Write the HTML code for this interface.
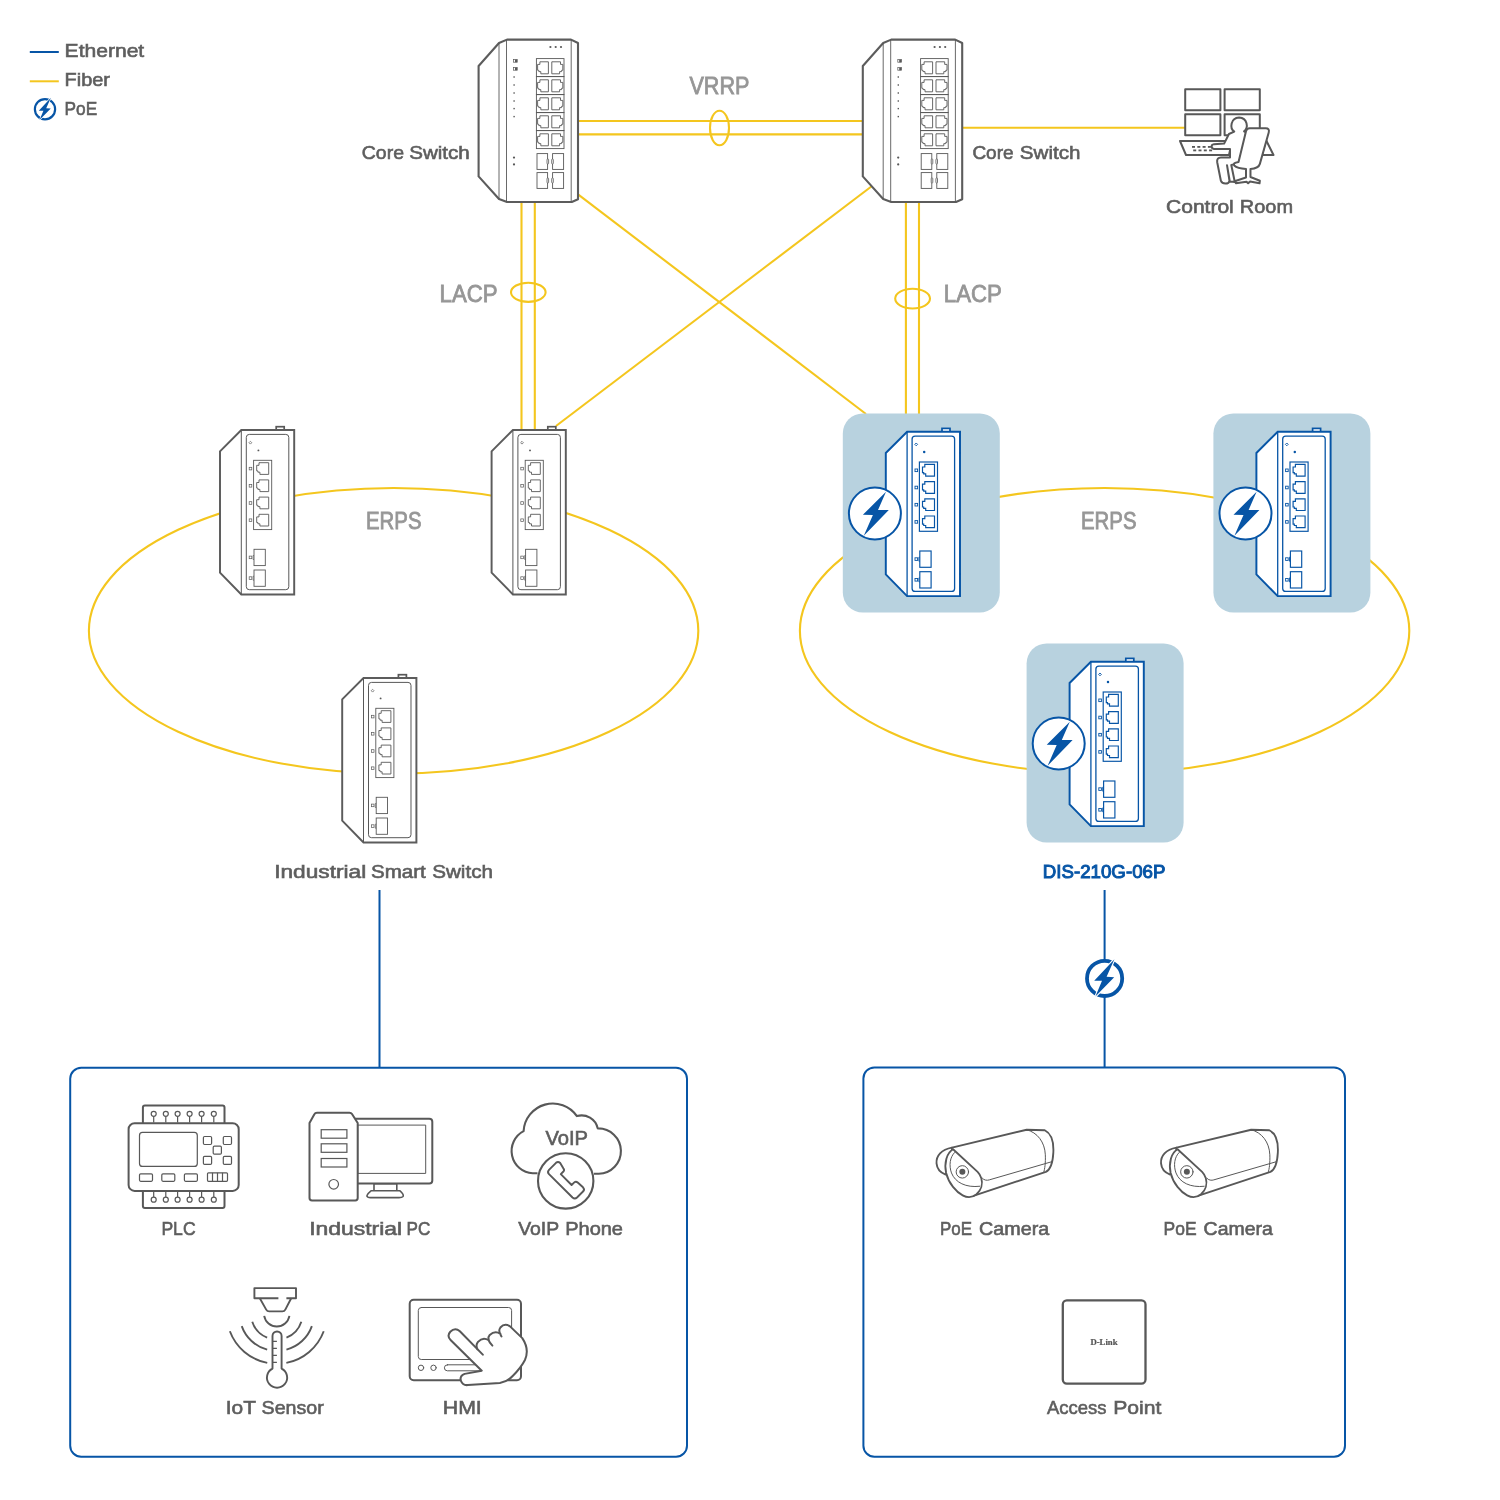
<!DOCTYPE html>
<html lang="en"><head><meta charset="utf-8"><title>Industrial Network Topology</title>
<style>html,body{margin:0;padding:0;background:#fff}body{width:1500px;height:1500px;overflow:hidden}svg{display:block;will-change:transform;transform:translateZ(0)}</style>
</head><body>
<svg width="1500" height="1500" viewBox="0 0 1500 1500">
<rect width="1500" height="1500" fill="#fff"/>
<g stroke="#f4c61e" stroke-width="2.1" fill="none">
<ellipse cx="393.6" cy="630.8" rx="304.7" ry="142.8"/>
<ellipse cx="1104.6" cy="630.8" rx="304.7" ry="142.8"/>
<path d="M578,121H864M578,134.4H864"/>
<ellipse cx="719.5" cy="128" rx="9.5" ry="17.2"/>
<path d="M962,127.7H1185"/>
<path d="M521.5,200V431M534.8,200V431"/>
<path d="M905.9,200V432M919,200V432"/>
<ellipse cx="528.3" cy="292.3" rx="17.3" ry="9.6"/>
<ellipse cx="912.6" cy="298.6" rx="17.4" ry="9.9"/>
<path d="M578,194.3L866,414"/>
<path d="M872,186L556,426"/>
</g>
<g stroke="#0755a6" stroke-width="2" fill="none">
<path d="M379.5,890V1068M1104.6,890V1068"/>
<rect x="70.2" y="1067.7" width="616.8" height="389.1" rx="11"/>
<rect x="863.4" y="1067.4" width="481.6" height="389.4" rx="11"/>
</g>
<circle cx="1104.6" cy="978.4" r="17.60" fill="#fff" stroke="#0755a6" stroke-width="3.80"/><polygon points="1114.40,959.20 1094.20,980.80 1102.00,980.80 1095.40,996.60 1114.20,977.20 1106.60,976.80" fill="#0755a6" stroke="#fff" stroke-width="2.20" paint-order="stroke" stroke-linejoin="miter"/>
<path d="M29.8,52H58.8" stroke="#0755a6" stroke-width="2"/>
<path d="M29.8,81.3H58.8" stroke="#f4c61e" stroke-width="2"/>
<circle cx="45" cy="109.2" r="10.12" fill="#fff" stroke="#0755a6" stroke-width="2.18"/><polygon points="50.88,97.68 38.76,110.64 43.44,110.64 39.48,120.12 50.76,108.48 46.20,108.24" fill="#0755a6" stroke="#fff" stroke-width="1.26" paint-order="stroke" stroke-linejoin="miter"/>
<text x="64.60" y="57.2" font-family='"Liberation Sans", sans-serif' font-size="18.6" font-weight="normal" fill="#5e5e5e" stroke="#5e5e5e" stroke-width="0.6" textLength="79.60" lengthAdjust="spacingAndGlyphs">Ethernet</text>
<text x="64.60" y="86.2" font-family='"Liberation Sans", sans-serif' font-size="18.6" font-weight="normal" fill="#5e5e5e" stroke="#5e5e5e" stroke-width="0.6" textLength="45.40" lengthAdjust="spacingAndGlyphs">Fiber</text>
<text x="64.60" y="115.2" font-family='"Liberation Sans", sans-serif' font-size="18.6" font-weight="normal" fill="#5e5e5e" stroke="#5e5e5e" stroke-width="0.6" textLength="32.60" lengthAdjust="spacingAndGlyphs">PoE</text>
<g transform="translate(0.00,0)" stroke="#585858" fill="none"><path d="M499,43L507,39.6H571L578,43V199.2L571.8,202H507L499,199L478.6,176.4V66Z" fill="#fff" stroke="#5c5c5c" stroke-width="2.1" stroke-linejoin="round"/><path d="M499,43V199M506.5,40V201.6M571.2,40V201.6" stroke-width="0.9"/><circle cx="550.4" cy="47" r="1.1" fill="#585858" stroke="none"/><circle cx="555.7" cy="47" r="1.1" fill="#585858" stroke="none"/><circle cx="561" cy="47" r="1.1" fill="#585858" stroke="none"/><rect x="513.6" y="59.6" width="3.6" height="2.6" stroke-width="0.7"/><rect x="515" y="59.6" width="2.2" height="2.6" fill="#585858" stroke="none"/><rect x="513.6" y="67.6" width="3.6" height="2.6" stroke-width="0.7"/><rect x="515" y="67.6" width="2.2" height="2.6" fill="#585858" stroke="none"/><rect x="513.4" y="76.3" width="1.4" height="1.4" fill="#585858" stroke="none"/><rect x="513.4" y="84.3" width="1.4" height="1.4" fill="#585858" stroke="none"/><rect x="513.4" y="92.3" width="1.4" height="1.4" fill="#585858" stroke="none"/><rect x="513.4" y="100.3" width="1.4" height="1.4" fill="#585858" stroke="none"/><rect x="513.4" y="107.9" width="1.4" height="1.4" fill="#585858" stroke="none"/><rect x="513.4" y="115.9" width="1.4" height="1.4" fill="#585858" stroke="none"/><circle cx="514" cy="157.6" r="1.1" fill="#585858" stroke="none"/><circle cx="514" cy="164.4" r="1.1" fill="#585858" stroke="none"/><rect x="536.4" y="58.6" width="27.6" height="18" stroke-width="0.9"/><path d="M539.90,61.80H548.40V73.80H540.80V71.60H538.80V70.30H537.60V64.40H539.90Z" stroke-width="0.9"/><path d="M560.50,61.80H551.80V73.80H559.60V71.60H561.60V70.30H562.80V64.40H560.50Z" stroke-width="0.9"/><rect x="536.4" y="76.6" width="27.6" height="18" stroke-width="0.9"/><path d="M539.90,79.80H548.40V91.80H540.80V89.60H538.80V88.30H537.60V82.40H539.90Z" stroke-width="0.9"/><path d="M560.50,79.80H551.80V91.80H559.60V89.60H561.60V88.30H562.80V82.40H560.50Z" stroke-width="0.9"/><rect x="536.4" y="94.6" width="27.6" height="18" stroke-width="0.9"/><path d="M539.90,97.80H548.40V109.80H540.80V107.60H538.80V106.30H537.60V100.40H539.90Z" stroke-width="0.9"/><path d="M560.50,97.80H551.80V109.80H559.60V107.60H561.60V106.30H562.80V100.40H560.50Z" stroke-width="0.9"/><rect x="536.4" y="112.6" width="27.6" height="18" stroke-width="0.9"/><path d="M539.90,115.80H548.40V127.80H540.80V125.60H538.80V124.30H537.60V118.40H539.90Z" stroke-width="0.9"/><path d="M560.50,115.80H551.80V127.80H559.60V125.60H561.60V124.30H562.80V118.40H560.50Z" stroke-width="0.9"/><rect x="536.4" y="130.6" width="27.6" height="18" stroke-width="0.9"/><path d="M539.90,133.80H548.40V145.80H540.80V143.60H538.80V142.30H537.60V136.40H539.90Z" stroke-width="0.9"/><path d="M560.50,133.80H551.80V145.80H559.60V143.60H561.60V142.30H562.80V136.40H560.50Z" stroke-width="0.9"/><rect x="537" y="153.6" width="10.6" height="15.8" stroke-width="0.9"/><rect x="552.6" y="153.6" width="11" height="15.8" stroke-width="0.9"/><rect x="547" y="159.0" width="1.6" height="5" rx="0.7" fill="#fff" stroke-width="0.8"/><rect x="551.7" y="159.0" width="1.6" height="5" rx="0.7" fill="#fff" stroke-width="0.8"/><rect x="537" y="172.6" width="10.6" height="15.8" stroke-width="0.9"/><rect x="552.6" y="172.6" width="11" height="15.8" stroke-width="0.9"/><rect x="547" y="178.0" width="1.6" height="5" rx="0.7" fill="#fff" stroke-width="0.8"/><rect x="551.7" y="178.0" width="1.6" height="5" rx="0.7" fill="#fff" stroke-width="0.8"/></g>
<g transform="translate(384.20,0)" stroke="#585858" fill="none"><path d="M499,43L507,39.6H571L578,43V199.2L571.8,202H507L499,199L478.6,176.4V66Z" fill="#fff" stroke="#5c5c5c" stroke-width="2.1" stroke-linejoin="round"/><path d="M499,43V199M506.5,40V201.6M571.2,40V201.6" stroke-width="0.9"/><circle cx="550.4" cy="47" r="1.1" fill="#585858" stroke="none"/><circle cx="555.7" cy="47" r="1.1" fill="#585858" stroke="none"/><circle cx="561" cy="47" r="1.1" fill="#585858" stroke="none"/><rect x="513.6" y="59.6" width="3.6" height="2.6" stroke-width="0.7"/><rect x="515" y="59.6" width="2.2" height="2.6" fill="#585858" stroke="none"/><rect x="513.6" y="67.6" width="3.6" height="2.6" stroke-width="0.7"/><rect x="515" y="67.6" width="2.2" height="2.6" fill="#585858" stroke="none"/><rect x="513.4" y="76.3" width="1.4" height="1.4" fill="#585858" stroke="none"/><rect x="513.4" y="84.3" width="1.4" height="1.4" fill="#585858" stroke="none"/><rect x="513.4" y="92.3" width="1.4" height="1.4" fill="#585858" stroke="none"/><rect x="513.4" y="100.3" width="1.4" height="1.4" fill="#585858" stroke="none"/><rect x="513.4" y="107.9" width="1.4" height="1.4" fill="#585858" stroke="none"/><rect x="513.4" y="115.9" width="1.4" height="1.4" fill="#585858" stroke="none"/><circle cx="514" cy="157.6" r="1.1" fill="#585858" stroke="none"/><circle cx="514" cy="164.4" r="1.1" fill="#585858" stroke="none"/><rect x="536.4" y="58.6" width="27.6" height="18" stroke-width="0.9"/><path d="M539.90,61.80H548.40V73.80H540.80V71.60H538.80V70.30H537.60V64.40H539.90Z" stroke-width="0.9"/><path d="M560.50,61.80H551.80V73.80H559.60V71.60H561.60V70.30H562.80V64.40H560.50Z" stroke-width="0.9"/><rect x="536.4" y="76.6" width="27.6" height="18" stroke-width="0.9"/><path d="M539.90,79.80H548.40V91.80H540.80V89.60H538.80V88.30H537.60V82.40H539.90Z" stroke-width="0.9"/><path d="M560.50,79.80H551.80V91.80H559.60V89.60H561.60V88.30H562.80V82.40H560.50Z" stroke-width="0.9"/><rect x="536.4" y="94.6" width="27.6" height="18" stroke-width="0.9"/><path d="M539.90,97.80H548.40V109.80H540.80V107.60H538.80V106.30H537.60V100.40H539.90Z" stroke-width="0.9"/><path d="M560.50,97.80H551.80V109.80H559.60V107.60H561.60V106.30H562.80V100.40H560.50Z" stroke-width="0.9"/><rect x="536.4" y="112.6" width="27.6" height="18" stroke-width="0.9"/><path d="M539.90,115.80H548.40V127.80H540.80V125.60H538.80V124.30H537.60V118.40H539.90Z" stroke-width="0.9"/><path d="M560.50,115.80H551.80V127.80H559.60V125.60H561.60V124.30H562.80V118.40H560.50Z" stroke-width="0.9"/><rect x="536.4" y="130.6" width="27.6" height="18" stroke-width="0.9"/><path d="M539.90,133.80H548.40V145.80H540.80V143.60H538.80V142.30H537.60V136.40H539.90Z" stroke-width="0.9"/><path d="M560.50,133.80H551.80V145.80H559.60V143.60H561.60V142.30H562.80V136.40H560.50Z" stroke-width="0.9"/><rect x="537" y="153.6" width="10.6" height="15.8" stroke-width="0.9"/><rect x="552.6" y="153.6" width="11" height="15.8" stroke-width="0.9"/><rect x="547" y="159.0" width="1.6" height="5" rx="0.7" fill="#fff" stroke-width="0.8"/><rect x="551.7" y="159.0" width="1.6" height="5" rx="0.7" fill="#fff" stroke-width="0.8"/><rect x="537" y="172.6" width="10.6" height="15.8" stroke-width="0.9"/><rect x="552.6" y="172.6" width="11" height="15.8" stroke-width="0.9"/><rect x="547" y="178.0" width="1.6" height="5" rx="0.7" fill="#fff" stroke-width="0.8"/><rect x="551.7" y="178.0" width="1.6" height="5" rx="0.7" fill="#fff" stroke-width="0.8"/></g>
<text x="361.80" y="158.8" font-family='"Liberation Sans", sans-serif' font-size="18.6" font-weight="normal" fill="#5e5e5e" stroke="#5e5e5e" stroke-width="0.6" textLength="42.20" lengthAdjust="spacingAndGlyphs">Core</text><text x="409.20" y="158.8" font-family='"Liberation Sans", sans-serif' font-size="18.6" font-weight="normal" fill="#5e5e5e" stroke="#5e5e5e" stroke-width="0.6" textLength="60.60" lengthAdjust="spacingAndGlyphs">Switch</text>
<text x="972.40" y="158.8" font-family='"Liberation Sans", sans-serif' font-size="18.6" font-weight="normal" fill="#5e5e5e" stroke="#5e5e5e" stroke-width="0.6" textLength="41.20" lengthAdjust="spacingAndGlyphs">Core</text><text x="1019.80" y="158.8" font-family='"Liberation Sans", sans-serif' font-size="18.6" font-weight="normal" fill="#5e5e5e" stroke="#5e5e5e" stroke-width="0.6" textLength="60.60" lengthAdjust="spacingAndGlyphs">Switch</text>
<text x="689.40" y="94.1" font-family='"Liberation Sans", sans-serif' font-size="23.7" font-weight="normal" fill="#969696" stroke="#969696" stroke-width="0.8" textLength="60.00" lengthAdjust="spacingAndGlyphs">VRRP</text>
<text x="439.60" y="301.9" font-family='"Liberation Sans", sans-serif' font-size="23.7" font-weight="normal" fill="#969696" stroke="#969696" stroke-width="0.8" textLength="58.00" lengthAdjust="spacingAndGlyphs">LACP</text>
<text x="943.80" y="301.9" font-family='"Liberation Sans", sans-serif' font-size="23.7" font-weight="normal" fill="#969696" stroke="#969696" stroke-width="0.8" textLength="58.00" lengthAdjust="spacingAndGlyphs">LACP</text>
<text x="366.00" y="529.1" font-family='"Liberation Sans", sans-serif' font-size="23.7" font-weight="normal" fill="#969696" stroke="#969696" stroke-width="0.8" textLength="55.60" lengthAdjust="spacingAndGlyphs">ERPS</text>
<text x="1081.00" y="529.1" font-family='"Liberation Sans", sans-serif' font-size="23.7" font-weight="normal" fill="#969696" stroke="#969696" stroke-width="0.8" textLength="55.60" lengthAdjust="spacingAndGlyphs">ERPS</text>
<g stroke="#585858" stroke-width="2" fill="#fff" stroke-linejoin="round" stroke-linecap="round">
<rect x="1185.2" y="89.2" width="35.2" height="21" />
<rect x="1224.6" y="89.2" width="35.2" height="21" />
<rect x="1185.2" y="114.2" width="35.2" height="21" />
<rect x="1224.6" y="114.2" width="35.2" height="21" />
<path d="M1266,140L1273.5,155H1262Z"/>
<path d="M1180,141H1232L1229,155H1186Z"/>
<path d="M 1234.27,131.65 C 1229.47,128.13 1230.53,118.00 1239.07,117.47 C 1247.60,118.00 1248.67,127.60 1244.08,131.33 L 1246.00,132.40 L 1241.73,162.80 L 1231.28,164.93 L 1234.80,182.00 L 1229.79,181.47 L 1227.01,165.15 L 1229.47,180.93 C 1228.72,184.35 1222.53,184.67 1220.93,180.93 L 1217.20,162.27 C 1216.67,159.07 1218.27,157.47 1220.93,157.47 L 1230.00,157.47 L 1230.00,148.93 L 1214.00,148.93 C 1210.80,148.40 1210.80,144.67 1214.00,144.13 L 1224.13,143.60 L 1228.93,134.00 Z"/>
<path d="M 1246.00,131.33 C 1246.53,129.20 1247.60,128.35 1249.73,128.35 L 1265.73,128.35 C 1268.40,128.35 1269.47,129.73 1268.72,132.40 L 1259.87,163.87 C 1258.80,167.60 1255.07,168.67 1250.48,168.99 L 1250.48,176.99 L 1259.87,180.72 L 1259.55,183.28 L 1250.05,181.47 L 1248.13,183.28 L 1246.53,181.68 L 1235.87,183.28 L 1235.33,180.93 L 1246.00,177.52 L 1246.00,168.99 C 1240.67,168.67 1236.40,167.60 1234.27,165.47 C 1233.20,163.87 1234.27,162.59 1238.53,161.95 Z"/>
</g>
<g fill="#585858">
<rect x="1192.0" y="146" width="3" height="1.8"/>
<rect x="1197.3" y="146" width="3" height="1.8"/>
<rect x="1202.6" y="146" width="3" height="1.8"/>
<rect x="1207.9" y="146" width="3" height="1.8"/>
<rect x="1193.2" y="149.5" width="3" height="1.8"/>
<rect x="1198.5" y="149.5" width="3" height="1.8"/>
<rect x="1203.8" y="149.5" width="3" height="1.8"/>
<rect x="1209.1" y="149.5" width="3" height="1.8"/>
</g>
<text x="1166.00" y="213.2" font-family='"Liberation Sans", sans-serif' font-size="18.6" font-weight="normal" fill="#5e5e5e" stroke="#5e5e5e" stroke-width="0.6" textLength="67.80" lengthAdjust="spacingAndGlyphs">Control</text><text x="1239.80" y="213.2" font-family='"Liberation Sans", sans-serif' font-size="18.6" font-weight="normal" fill="#5e5e5e" stroke="#5e5e5e" stroke-width="0.6" textLength="53.20" lengthAdjust="spacingAndGlyphs">Room</text>
<g transform="translate(0.00,0.00)" stroke="#585858" fill="none"><rect x="276.2" y="426.7" width="8" height="3.6" fill="#fff" stroke-width="1.7"/><path d="M241.3,430H294.2V594.4H241.3L220,572.7V451.3Z" fill="#fff" stroke="#5c5c5c" stroke-width="1.95" stroke-linejoin="miter"/><path d="M241.3,430V594.4" stroke-width="1.00"/><rect x="246.3" y="434.4" width="42.5" height="155.3" rx="3" stroke-width="1.00"/><path d="M250.4,441.3l1.4,1.4l-1.4,1.4l-1.4,-1.4z" stroke-width="0.70"/><circle cx="258.4" cy="450.4" r="0.95" fill="#585858" stroke="none"/><rect x="253.6" y="460.3" width="18.1" height="69.3" stroke-width="0.90"/><path d="M259.00,462.70H268.70V474.40H259.90V472.20H257.90V470.90H256.70V465.30H259.00Z" stroke-width="0.90"/><rect x="249.2" y="467.30" width="2.6" height="2.6" stroke-width="0.70"/><path d="M259.00,479.90H268.70V491.60H259.90V489.40H257.90V488.10H256.70V482.50H259.00Z" stroke-width="0.90"/><rect x="249.2" y="484.50" width="2.6" height="2.6" stroke-width="0.70"/><path d="M259.00,497.10H268.70V508.80H259.90V506.60H257.90V505.30H256.70V499.70H259.00Z" stroke-width="0.90"/><rect x="249.2" y="501.70" width="2.6" height="2.6" stroke-width="0.70"/><path d="M259.00,514.30H268.70V526.00H259.90V523.80H257.90V522.50H256.70V516.90H259.00Z" stroke-width="0.90"/><rect x="249.2" y="518.90" width="2.6" height="2.6" stroke-width="0.70"/><rect x="254" y="549.3" width="11.3" height="16.3" stroke-width="0.90"/><path d="M254,555.50h-0.9v4h0.9" stroke-width="0.70"/><rect x="249.2" y="556.10" width="2.6" height="2.6" stroke-width="0.70"/><rect x="254" y="570.0" width="11.3" height="16.3" stroke-width="0.90"/><path d="M254,576.20h-0.9v4h0.9" stroke-width="0.70"/><rect x="249.2" y="576.80" width="2.6" height="2.6" stroke-width="0.70"/></g>
<g transform="translate(271.60,0.00)" stroke="#585858" fill="none"><rect x="276.2" y="426.7" width="8" height="3.6" fill="#fff" stroke-width="1.7"/><path d="M241.3,430H294.2V594.4H241.3L220,572.7V451.3Z" fill="#fff" stroke="#5c5c5c" stroke-width="1.95" stroke-linejoin="miter"/><path d="M241.3,430V594.4" stroke-width="1.00"/><rect x="246.3" y="434.4" width="42.5" height="155.3" rx="3" stroke-width="1.00"/><path d="M250.4,441.3l1.4,1.4l-1.4,1.4l-1.4,-1.4z" stroke-width="0.70"/><circle cx="258.4" cy="450.4" r="0.95" fill="#585858" stroke="none"/><rect x="253.6" y="460.3" width="18.1" height="69.3" stroke-width="0.90"/><path d="M259.00,462.70H268.70V474.40H259.90V472.20H257.90V470.90H256.70V465.30H259.00Z" stroke-width="0.90"/><rect x="249.2" y="467.30" width="2.6" height="2.6" stroke-width="0.70"/><path d="M259.00,479.90H268.70V491.60H259.90V489.40H257.90V488.10H256.70V482.50H259.00Z" stroke-width="0.90"/><rect x="249.2" y="484.50" width="2.6" height="2.6" stroke-width="0.70"/><path d="M259.00,497.10H268.70V508.80H259.90V506.60H257.90V505.30H256.70V499.70H259.00Z" stroke-width="0.90"/><rect x="249.2" y="501.70" width="2.6" height="2.6" stroke-width="0.70"/><path d="M259.00,514.30H268.70V526.00H259.90V523.80H257.90V522.50H256.70V516.90H259.00Z" stroke-width="0.90"/><rect x="249.2" y="518.90" width="2.6" height="2.6" stroke-width="0.70"/><rect x="254" y="549.3" width="11.3" height="16.3" stroke-width="0.90"/><path d="M254,555.50h-0.9v4h0.9" stroke-width="0.70"/><rect x="249.2" y="556.10" width="2.6" height="2.6" stroke-width="0.70"/><rect x="254" y="570.0" width="11.3" height="16.3" stroke-width="0.90"/><path d="M254,576.20h-0.9v4h0.9" stroke-width="0.70"/><rect x="249.2" y="576.80" width="2.6" height="2.6" stroke-width="0.70"/></g>
<g transform="translate(122.20,248.00)" stroke="#585858" fill="none"><rect x="276.2" y="426.7" width="8" height="3.6" fill="#fff" stroke-width="1.7"/><path d="M241.3,430H294.2V594.4H241.3L220,572.7V451.3Z" fill="#fff" stroke="#5c5c5c" stroke-width="1.95" stroke-linejoin="miter"/><path d="M241.3,430V594.4" stroke-width="1.00"/><rect x="246.3" y="434.4" width="42.5" height="155.3" rx="3" stroke-width="1.00"/><path d="M250.4,441.3l1.4,1.4l-1.4,1.4l-1.4,-1.4z" stroke-width="0.70"/><circle cx="258.4" cy="450.4" r="0.95" fill="#585858" stroke="none"/><rect x="253.6" y="460.3" width="18.1" height="69.3" stroke-width="0.90"/><path d="M259.00,462.70H268.70V474.40H259.90V472.20H257.90V470.90H256.70V465.30H259.00Z" stroke-width="0.90"/><rect x="249.2" y="467.30" width="2.6" height="2.6" stroke-width="0.70"/><path d="M259.00,479.90H268.70V491.60H259.90V489.40H257.90V488.10H256.70V482.50H259.00Z" stroke-width="0.90"/><rect x="249.2" y="484.50" width="2.6" height="2.6" stroke-width="0.70"/><path d="M259.00,497.10H268.70V508.80H259.90V506.60H257.90V505.30H256.70V499.70H259.00Z" stroke-width="0.90"/><rect x="249.2" y="501.70" width="2.6" height="2.6" stroke-width="0.70"/><path d="M259.00,514.30H268.70V526.00H259.90V523.80H257.90V522.50H256.70V516.90H259.00Z" stroke-width="0.90"/><rect x="249.2" y="518.90" width="2.6" height="2.6" stroke-width="0.70"/><rect x="254" y="549.3" width="11.3" height="16.3" stroke-width="0.90"/><path d="M254,555.50h-0.9v4h0.9" stroke-width="0.70"/><rect x="249.2" y="556.10" width="2.6" height="2.6" stroke-width="0.70"/><rect x="254" y="570.0" width="11.3" height="16.3" stroke-width="0.90"/><path d="M254,576.20h-0.9v4h0.9" stroke-width="0.70"/><rect x="249.2" y="576.80" width="2.6" height="2.6" stroke-width="0.70"/></g>
<text x="274.20" y="878.2" font-family='"Liberation Sans", sans-serif' font-size="18.6" font-weight="normal" fill="#5e5e5e" stroke="#5e5e5e" stroke-width="0.6" textLength="92.00" lengthAdjust="spacingAndGlyphs">Industrial</text><text x="371.00" y="878.2" font-family='"Liberation Sans", sans-serif' font-size="18.6" font-weight="normal" fill="#5e5e5e" stroke="#5e5e5e" stroke-width="0.6" textLength="54.80" lengthAdjust="spacingAndGlyphs">Smart</text><text x="432.20" y="878.2" font-family='"Liberation Sans", sans-serif' font-size="18.6" font-weight="normal" fill="#5e5e5e" stroke="#5e5e5e" stroke-width="0.6" textLength="60.80" lengthAdjust="spacingAndGlyphs">Switch</text>
<rect x="842.8" y="413.4" width="157" height="199.2" rx="20" fill="#b8d2df"/>
<g transform="translate(665.80,1.70)" stroke="#0755a6" fill="none"><rect x="276.2" y="426.7" width="8" height="3.6" fill="#fff" stroke-width="1.7"/><path d="M241.3,430H294.2V594.4H241.3L220,572.7V451.3Z" fill="#fff" stroke="#0755a6" stroke-width="1.95" stroke-linejoin="miter"/><path d="M241.3,430V594.4" stroke-width="1.30"/><rect x="246.3" y="434.4" width="42.5" height="155.3" rx="3" stroke-width="1.30"/><path d="M250.4,441.3l1.4,1.4l-1.4,1.4l-1.4,-1.4z" stroke-width="0.91"/><circle cx="258.4" cy="450.4" r="1.23" fill="#0755a6" stroke="none"/><rect x="253.6" y="460.3" width="18.1" height="69.3" stroke-width="1.17"/><path d="M259.00,462.70H268.70V474.40H259.90V472.20H257.90V470.90H256.70V465.30H259.00Z" stroke-width="1.17"/><rect x="249.2" y="467.30" width="2.6" height="2.6" stroke-width="0.91"/><path d="M259.00,479.90H268.70V491.60H259.90V489.40H257.90V488.10H256.70V482.50H259.00Z" stroke-width="1.17"/><rect x="249.2" y="484.50" width="2.6" height="2.6" stroke-width="0.91"/><path d="M259.00,497.10H268.70V508.80H259.90V506.60H257.90V505.30H256.70V499.70H259.00Z" stroke-width="1.17"/><rect x="249.2" y="501.70" width="2.6" height="2.6" stroke-width="0.91"/><path d="M259.00,514.30H268.70V526.00H259.90V523.80H257.90V522.50H256.70V516.90H259.00Z" stroke-width="1.17"/><rect x="249.2" y="518.90" width="2.6" height="2.6" stroke-width="0.91"/><rect x="254" y="549.3" width="11.3" height="16.3" stroke-width="1.17"/><path d="M254,555.50h-0.9v4h0.9" stroke-width="0.91"/><rect x="249.2" y="556.10" width="2.6" height="2.6" stroke-width="0.91"/><rect x="254" y="570.0" width="11.3" height="16.3" stroke-width="1.17"/><path d="M254,576.20h-0.9v4h0.9" stroke-width="0.91"/><rect x="249.2" y="576.80" width="2.6" height="2.6" stroke-width="0.91"/></g>
<circle cx="874.9" cy="513.5" r="26" fill="#fff" stroke="#0755a6" stroke-width="2"/><polygon points="886.00,491.70 862.90,514.80 872.90,515.00 863.80,535.80 888.80,510.10 878.00,510.10" fill="#0755a6"/>
<rect x="1213.4" y="413.4" width="157" height="199.2" rx="20" fill="#b8d2df"/>
<g transform="translate(1036.40,1.70)" stroke="#0755a6" fill="none"><rect x="276.2" y="426.7" width="8" height="3.6" fill="#fff" stroke-width="1.7"/><path d="M241.3,430H294.2V594.4H241.3L220,572.7V451.3Z" fill="#fff" stroke="#0755a6" stroke-width="1.95" stroke-linejoin="miter"/><path d="M241.3,430V594.4" stroke-width="1.30"/><rect x="246.3" y="434.4" width="42.5" height="155.3" rx="3" stroke-width="1.30"/><path d="M250.4,441.3l1.4,1.4l-1.4,1.4l-1.4,-1.4z" stroke-width="0.91"/><circle cx="258.4" cy="450.4" r="1.23" fill="#0755a6" stroke="none"/><rect x="253.6" y="460.3" width="18.1" height="69.3" stroke-width="1.17"/><path d="M259.00,462.70H268.70V474.40H259.90V472.20H257.90V470.90H256.70V465.30H259.00Z" stroke-width="1.17"/><rect x="249.2" y="467.30" width="2.6" height="2.6" stroke-width="0.91"/><path d="M259.00,479.90H268.70V491.60H259.90V489.40H257.90V488.10H256.70V482.50H259.00Z" stroke-width="1.17"/><rect x="249.2" y="484.50" width="2.6" height="2.6" stroke-width="0.91"/><path d="M259.00,497.10H268.70V508.80H259.90V506.60H257.90V505.30H256.70V499.70H259.00Z" stroke-width="1.17"/><rect x="249.2" y="501.70" width="2.6" height="2.6" stroke-width="0.91"/><path d="M259.00,514.30H268.70V526.00H259.90V523.80H257.90V522.50H256.70V516.90H259.00Z" stroke-width="1.17"/><rect x="249.2" y="518.90" width="2.6" height="2.6" stroke-width="0.91"/><rect x="254" y="549.3" width="11.3" height="16.3" stroke-width="1.17"/><path d="M254,555.50h-0.9v4h0.9" stroke-width="0.91"/><rect x="249.2" y="556.10" width="2.6" height="2.6" stroke-width="0.91"/><rect x="254" y="570.0" width="11.3" height="16.3" stroke-width="1.17"/><path d="M254,576.20h-0.9v4h0.9" stroke-width="0.91"/><rect x="249.2" y="576.80" width="2.6" height="2.6" stroke-width="0.91"/></g>
<circle cx="1245.5" cy="513.5" r="26" fill="#fff" stroke="#0755a6" stroke-width="2"/><polygon points="1256.60,491.70 1233.50,514.80 1243.50,515.00 1234.40,535.80 1259.40,510.10 1248.60,510.10" fill="#0755a6"/>
<rect x="1026.6" y="643.4" width="157" height="199.2" rx="20" fill="#b8d2df"/>
<g transform="translate(849.60,231.70)" stroke="#0755a6" fill="none"><rect x="276.2" y="426.7" width="8" height="3.6" fill="#fff" stroke-width="1.7"/><path d="M241.3,430H294.2V594.4H241.3L220,572.7V451.3Z" fill="#fff" stroke="#0755a6" stroke-width="1.95" stroke-linejoin="miter"/><path d="M241.3,430V594.4" stroke-width="1.30"/><rect x="246.3" y="434.4" width="42.5" height="155.3" rx="3" stroke-width="1.30"/><path d="M250.4,441.3l1.4,1.4l-1.4,1.4l-1.4,-1.4z" stroke-width="0.91"/><circle cx="258.4" cy="450.4" r="1.23" fill="#0755a6" stroke="none"/><rect x="253.6" y="460.3" width="18.1" height="69.3" stroke-width="1.17"/><path d="M259.00,462.70H268.70V474.40H259.90V472.20H257.90V470.90H256.70V465.30H259.00Z" stroke-width="1.17"/><rect x="249.2" y="467.30" width="2.6" height="2.6" stroke-width="0.91"/><path d="M259.00,479.90H268.70V491.60H259.90V489.40H257.90V488.10H256.70V482.50H259.00Z" stroke-width="1.17"/><rect x="249.2" y="484.50" width="2.6" height="2.6" stroke-width="0.91"/><path d="M259.00,497.10H268.70V508.80H259.90V506.60H257.90V505.30H256.70V499.70H259.00Z" stroke-width="1.17"/><rect x="249.2" y="501.70" width="2.6" height="2.6" stroke-width="0.91"/><path d="M259.00,514.30H268.70V526.00H259.90V523.80H257.90V522.50H256.70V516.90H259.00Z" stroke-width="1.17"/><rect x="249.2" y="518.90" width="2.6" height="2.6" stroke-width="0.91"/><rect x="254" y="549.3" width="11.3" height="16.3" stroke-width="1.17"/><path d="M254,555.50h-0.9v4h0.9" stroke-width="0.91"/><rect x="249.2" y="556.10" width="2.6" height="2.6" stroke-width="0.91"/><rect x="254" y="570.0" width="11.3" height="16.3" stroke-width="1.17"/><path d="M254,576.20h-0.9v4h0.9" stroke-width="0.91"/><rect x="249.2" y="576.80" width="2.6" height="2.6" stroke-width="0.91"/></g>
<circle cx="1058.6999999999998" cy="743.5" r="26" fill="#fff" stroke="#0755a6" stroke-width="2"/><polygon points="1069.80,721.70 1046.70,744.80 1056.70,745.00 1047.60,765.80 1072.60,740.10 1061.80,740.10" fill="#0755a6"/>
<text x="1042.80" y="878.0" font-family='"Liberation Sans", sans-serif' font-size="18.6" font-weight="normal" fill="#0755a6" stroke="#0755a6" stroke-width="1.0" textLength="122.60" lengthAdjust="spacingAndGlyphs">DIS-210G-06P</text>
<g stroke="#585858" fill="#fff" stroke-width="2" stroke-linejoin="round">
<rect x="142.9" y="1105.6" width="81.6" height="30" rx="2"/>
<rect x="142.9" y="1178" width="81.6" height="30" rx="2"/>
<rect x="128.6" y="1123.3" width="110.1" height="67.6" rx="6"/>
</g>
<g stroke="#585858" fill="#fff" stroke-width="1.2">
<path d="M153.7,1116.4V1122.5M153.7,1191.6V1197.2"/><circle cx="153.7" cy="1113.8" r="2.5"/><circle cx="153.7" cy="1199.7" r="2.5"/>
<path d="M165.8,1116.4V1122.5M165.8,1191.6V1197.2"/><circle cx="165.8" cy="1113.8" r="2.5"/><circle cx="165.8" cy="1199.7" r="2.5"/>
<path d="M177.6,1116.4V1122.5M177.6,1191.6V1197.2"/><circle cx="177.6" cy="1113.8" r="2.5"/><circle cx="177.6" cy="1199.7" r="2.5"/>
<path d="M189.6,1116.4V1122.5M189.6,1191.6V1197.2"/><circle cx="189.6" cy="1113.8" r="2.5"/><circle cx="189.6" cy="1199.7" r="2.5"/>
<path d="M201.6,1116.4V1122.5M201.6,1191.6V1197.2"/><circle cx="201.6" cy="1113.8" r="2.5"/><circle cx="201.6" cy="1199.7" r="2.5"/>
<path d="M213.8,1116.4V1122.5M213.8,1191.6V1197.2"/><circle cx="213.8" cy="1113.8" r="2.5"/><circle cx="213.8" cy="1199.7" r="2.5"/>
<rect x="139.5" y="1132.4" width="57.8" height="34" rx="3"/>
<rect x="203.4" y="1136.5" width="8.2" height="8" rx="1.2"/>
<rect x="223.3" y="1136.5" width="8.2" height="8" rx="1.2"/>
<rect x="213.2" y="1146.2" width="8.2" height="8" rx="1.2"/>
<rect x="203.4" y="1156.4" width="8.2" height="8" rx="1.2"/>
<rect x="223.3" y="1156.4" width="8.2" height="8" rx="1.2"/>
<rect x="139.5" y="1173.9" width="13" height="7.4" rx="1.2"/>
<rect x="161.8" y="1173.9" width="13" height="7.4" rx="1.2"/>
<rect x="184.4" y="1173.9" width="13" height="7.4" rx="1.2"/>
<rect x="207.5" y="1172.8" width="20" height="8.5" rx="1"/><path d="M212.5,1172.8v8.5M217.5,1172.8v8.5M222.5,1172.8v8.5"/>
</g>
<text x="161.40" y="1234.8" font-family='"Liberation Sans", sans-serif' font-size="18.6" font-weight="normal" fill="#5e5e5e" stroke="#5e5e5e" stroke-width="0.6" textLength="34.20" lengthAdjust="spacingAndGlyphs">PLC</text>
<g stroke="#585858" fill="#fff" stroke-width="2" stroke-linejoin="round">
<path d="M374,1183.6H396.8V1191H374Z" stroke-width="1.6"/>
<path d="M371,1190.8H400C402.5,1193 404,1195 403,1196.5C402,1197.6 400,1197.6 399,1197.6H370.5C368.5,1197.6 366.5,1197 367,1195.5C367.5,1194 369.5,1192 371,1190.8Z" stroke-width="1.6"/>
<rect x="352" y="1118.8" width="80.3" height="64.8" rx="3"/>
<rect x="357.7" y="1125.1" width="68" height="48.3" fill="none" stroke-width="1"/>
<path d="M312,1200.4C310.3,1200.4 309.5,1199.5 309.5,1198V1123L314.5,1114C315,1113 316,1112.7 317,1112.7H349.5C350.5,1112.7 351.5,1113.2 352,1114L357.7,1123V1198C357.7,1199.5 356.8,1200.4 355.3,1200.4Z"/>
</g>
<g stroke="#585858" fill="#fff" stroke-width="1.2">
<rect x="321.2" y="1129.7" width="25.7" height="8.5"/>
<rect x="321.2" y="1143.8" width="25.7" height="8.5"/>
<rect x="321.2" y="1158.5" width="25.7" height="8.5"/>
<circle cx="333.7" cy="1184.3" r="4.8"/>
</g>
<text x="309.20" y="1234.8" font-family='"Liberation Sans", sans-serif' font-size="18.6" font-weight="normal" fill="#5e5e5e" stroke="#5e5e5e" stroke-width="0.6" textLength="93.00" lengthAdjust="spacingAndGlyphs">Industrial</text><text x="406.60" y="1234.8" font-family='"Liberation Sans", sans-serif' font-size="18.6" font-weight="normal" fill="#5e5e5e" stroke="#5e5e5e" stroke-width="0.6" textLength="23.80" lengthAdjust="spacingAndGlyphs">PC</text>
<g stroke="#585858" fill="#fff" stroke-width="2.1" stroke-linejoin="round">
<path d="M537.5,1173.3 H532.7 A22.4,22.4 0 0 1 523.6,1131.1 A29.3,29.3 0 0 1 576.9,1116.1 A16.5,16.5 0 0 1 597.7,1128.4 A22.4,22.4 0 0 1 598.8,1173.7 H594"/>
<circle cx="565.7" cy="1180.9" r="27.7"/>
<path d="M556,1162.8 L549,1169.8 C547.7,1171.2 547.7,1172.8 549,1174.2 L572.5,1197.5 C574,1198.8 575.6,1198.8 577,1197.5 L583,1191.5 C584.3,1190.2 584.3,1188.6 583,1187.3 L577.7,1182.5 C576.5,1181.5 575.3,1181.5 574.3,1182.4 L571.6,1185 L560.8,1174.2 L563.4,1171.5 C564.3,1170.5 564.3,1169.3 563.3,1168.3 L560.2,1163 C558.8,1161.7 557.3,1161.7 556,1162.8Z" stroke-width="1.9"/>
</g>
<text x="545.40" y="1144.6" font-family='"Liberation Sans", sans-serif' font-size="19.5" font-weight="normal" fill="#5e5e5e" stroke="#5e5e5e" stroke-width="0.6" textLength="42.60" lengthAdjust="spacingAndGlyphs">VoIP</text>
<text x="518.20" y="1235.0" font-family='"Liberation Sans", sans-serif' font-size="18.6" font-weight="normal" fill="#5e5e5e" stroke="#5e5e5e" stroke-width="0.6" textLength="41.00" lengthAdjust="spacingAndGlyphs">VoIP</text><text x="565.20" y="1235.0" font-family='"Liberation Sans", sans-serif' font-size="18.6" font-weight="normal" fill="#5e5e5e" stroke="#5e5e5e" stroke-width="0.6" textLength="57.80" lengthAdjust="spacingAndGlyphs">Phone</text>
<g stroke="#585858" fill="none" stroke-width="1.9" stroke-linecap="butt" stroke-linejoin="round">
<path d="M278.4,1298.3H254.4V1288.1H296V1298.3H286.4"/>
<path d="M259.8,1298.3L266.2,1309.6C267,1311 268,1311.4 269.2,1311.4H282.4C283.6,1311.4 284.6,1311 285.3,1309.6L291.2,1298.3"/>
<path d="M289.41,1315.92A12.8,12.8 0 0 1 264.19,1315.92"/>
<path d="M301.34,1321.67A25.8,25.8 0 0 1 286.46,1337.62"/>
<path d="M267.14,1337.62A25.8,25.8 0 0 1 252.26,1321.67"/>
<path d="M311.87,1326.12A37.2,37.2 0 0 1 286.43,1349.63"/>
<path d="M267.17,1349.63A37.2,37.2 0 0 1 241.73,1326.12"/>
<path d="M323.73,1331.25A50.1,50.1 0 0 1 286.36,1362.88"/>
<path d="M267.24,1362.88A50.1,50.1 0 0 1 229.87,1331.25"/>
<path d="M272.5,1336A4.55,4.55 0 0 1 281.6,1336V1368.6A10.1,10.1 0 1 1 272.5,1368.6Z" fill="#fff"/>
<path d="M272.5,1341.3h4.4M272.5,1348.4h4.4M272.5,1355.3h4.4M272.5,1362.3h4.4" stroke-width="1.3"/>
</g>
<text x="225.80" y="1414.0" font-family='"Liberation Sans", sans-serif' font-size="18.6" font-weight="normal" fill="#5e5e5e" stroke="#5e5e5e" stroke-width="0.6" textLength="30.20" lengthAdjust="spacingAndGlyphs">IoT</text><text x="261.60" y="1414.0" font-family='"Liberation Sans", sans-serif' font-size="18.6" font-weight="normal" fill="#5e5e5e" stroke="#5e5e5e" stroke-width="0.6" textLength="62.20" lengthAdjust="spacingAndGlyphs">Sensor</text>
<g stroke="#585858" fill="#fff" stroke-linejoin="round" stroke-linecap="round">
<rect x="409.7" y="1299.7" width="111.3" height="80.6" rx="4" stroke-width="2"/>
<rect x="418.3" y="1307.5" width="93.3" height="52" rx="3" stroke-width="1"/>
<circle cx="421" cy="1367.8" r="2.7" stroke-width="1"/><circle cx="433.5" cy="1367.8" r="2.7" stroke-width="1"/>
<rect x="444.4" y="1364.8" width="60" height="6" rx="3" stroke-width="1"/>
<path d="M 482.80,1354.67 L 459.87,1331.20 Q 455.07,1326.93 450.27,1331.73 Q 446.53,1336.00 450.80,1340.27 L 481.73,1370.67 L 464.67,1373.87 Q 459.33,1376.00 460.93,1380.80 Q 462.53,1385.60 467.87,1385.07 L 499.87,1382.93 Q 507.33,1381.87 512.67,1376.00 Q 521.20,1367.47 524.93,1360.00 Q 529.73,1349.33 522.27,1338.13 L 510.00,1326.40 Q 504.67,1322.67 500.40,1327.47 Q 497.73,1331.20 501.47,1336.53" stroke-width="2"/>
<path d="M 500.40,1333.87 Q 495.07,1330.13 489.73,1334.93 Q 486.00,1339.20 492.40,1345.60" stroke-width="2"/>
<path d="M 488.67,1340.27 Q 482.80,1336.53 478.00,1341.87 Q 475.33,1345.07 477.47,1349.33" stroke-width="2"/>
</g>
<text x="442.80" y="1414.2" font-family='"Liberation Sans", sans-serif' font-size="18.6" font-weight="normal" fill="#5e5e5e" stroke="#5e5e5e" stroke-width="0.6" textLength="39.00" lengthAdjust="spacingAndGlyphs">HMI</text>
<g stroke="#585858" fill="#fff" stroke-linejoin="round" stroke-linecap="round">
<path d="M 952.00,1147.55 C 941.33,1149.47 936.00,1155.87 936.53,1163.33 C 937.07,1169.73 941.33,1172.93 945.60,1174.53 L 952.00,1163.33 Z" stroke-width="1.85"/>
<path d="M 952.00,1147.55 L 1026.67,1129.73 L 1044.80,1130.27 C 1051.20,1133.47 1053.87,1142.00 1053.33,1152.67 C 1052.80,1163.33 1050.13,1169.73 1045.87,1171.87 L 973.33,1195.87 L 952.00,1163.33 Z" stroke-width="1.85"/>
<path d="M 953.07,1149.25 C 946.67,1152.67 944.00,1163.33 946.13,1172.93 C 948.80,1183.60 956.27,1192.13 962.67,1195.33 C 966.93,1197.68 972.27,1197.68 976.53,1194.27 C 981.33,1190.00 982.93,1183.60 981.33,1178.27 C 980.27,1175.07 979.20,1173.47 977.60,1171.87 Z" stroke-width="1.85"/>
<path d="M 954.67,1152.45 C 949.87,1156.93 948.80,1165.47 951.47,1172.93 C 955.20,1182.53 965.87,1187.87 979.73,1186.27" stroke-width="1" fill="none"/>
<path d="M 982.40,1178.27 C 984.00,1180.40 987.20,1180.61 989.33,1179.87 L 1051.73,1161.73" stroke-width="1" fill="none"/>
<path d="M 1026.67,1129.73 C 1037.33,1132.40 1044.80,1142.00 1045.33,1154.80 C 1045.65,1163.33 1044.80,1168.67 1043.73,1172.40" stroke-width="1" fill="none"/>
<circle cx="962.35" cy="1171.87" r="6.2" stroke-width="1"/><circle cx="962.35" cy="1171.87" r="3" fill="#585858" stroke="none"/>
</g>
<g stroke="#585858" fill="#fff" stroke-linejoin="round" stroke-linecap="round">
<path d="M 1176.50,1147.55 C 1165.83,1149.47 1160.50,1155.87 1161.03,1163.33 C 1161.57,1169.73 1165.83,1172.93 1170.10,1174.53 L 1176.50,1163.33 Z" stroke-width="1.85"/>
<path d="M 1176.50,1147.55 L 1251.17,1129.73 L 1269.30,1130.27 C 1275.70,1133.47 1278.37,1142.00 1277.83,1152.67 C 1277.30,1163.33 1274.63,1169.73 1270.37,1171.87 L 1197.83,1195.87 L 1176.50,1163.33 Z" stroke-width="1.85"/>
<path d="M 1177.57,1149.25 C 1171.17,1152.67 1168.50,1163.33 1170.63,1172.93 C 1173.30,1183.60 1180.77,1192.13 1187.17,1195.33 C 1191.43,1197.68 1196.77,1197.68 1201.03,1194.27 C 1205.83,1190.00 1207.43,1183.60 1205.83,1178.27 C 1204.77,1175.07 1203.70,1173.47 1202.10,1171.87 Z" stroke-width="1.85"/>
<path d="M 1179.17,1152.45 C 1174.37,1156.93 1173.30,1165.47 1175.97,1172.93 C 1179.70,1182.53 1190.37,1187.87 1204.23,1186.27" stroke-width="1" fill="none"/>
<path d="M 1206.90,1178.27 C 1208.50,1180.40 1211.70,1180.61 1213.83,1179.87 L 1276.23,1161.73" stroke-width="1" fill="none"/>
<path d="M 1251.17,1129.73 C 1261.83,1132.40 1269.30,1142.00 1269.83,1154.80 C 1270.15,1163.33 1269.30,1168.67 1268.23,1172.40" stroke-width="1" fill="none"/>
<circle cx="1186.85" cy="1171.87" r="6.2" stroke-width="1"/><circle cx="1186.85" cy="1171.87" r="3" fill="#585858" stroke="none"/>
</g>
<text x="940.00" y="1234.8" font-family='"Liberation Sans", sans-serif' font-size="18.6" font-weight="normal" fill="#5e5e5e" stroke="#5e5e5e" stroke-width="0.6" textLength="32.00" lengthAdjust="spacingAndGlyphs">PoE</text><text x="979.00" y="1234.8" font-family='"Liberation Sans", sans-serif' font-size="18.6" font-weight="normal" fill="#5e5e5e" stroke="#5e5e5e" stroke-width="0.6" textLength="70.20" lengthAdjust="spacingAndGlyphs">Camera</text>
<text x="1163.60" y="1234.8" font-family='"Liberation Sans", sans-serif' font-size="18.6" font-weight="normal" fill="#5e5e5e" stroke="#5e5e5e" stroke-width="0.6" textLength="33.00" lengthAdjust="spacingAndGlyphs">PoE</text><text x="1203.60" y="1234.8" font-family='"Liberation Sans", sans-serif' font-size="18.6" font-weight="normal" fill="#5e5e5e" stroke="#5e5e5e" stroke-width="0.6" textLength="69.20" lengthAdjust="spacingAndGlyphs">Camera</text>
<rect x="1062.8" y="1300.4" width="82.7" height="83.2" rx="4" fill="#fff" stroke="#585858" stroke-width="2.3"/>
<text x="1090.40" y="1345.2" font-family='"Liberation Serif", serif' font-size="8.4" font-weight="bold" fill="#555" stroke="#555" stroke-width="0.2" textLength="27.20" lengthAdjust="spacingAndGlyphs">D-Link</text>
<text x="1047.00" y="1414.0" font-family='"Liberation Sans", sans-serif' font-size="18.6" font-weight="normal" fill="#5e5e5e" stroke="#5e5e5e" stroke-width="0.6" textLength="59.40" lengthAdjust="spacingAndGlyphs">Access</text><text x="1113.20" y="1414.0" font-family='"Liberation Sans", sans-serif' font-size="18.6" font-weight="normal" fill="#5e5e5e" stroke="#5e5e5e" stroke-width="0.6" textLength="48.20" lengthAdjust="spacingAndGlyphs">Point</text>
</svg>
</body></html>
